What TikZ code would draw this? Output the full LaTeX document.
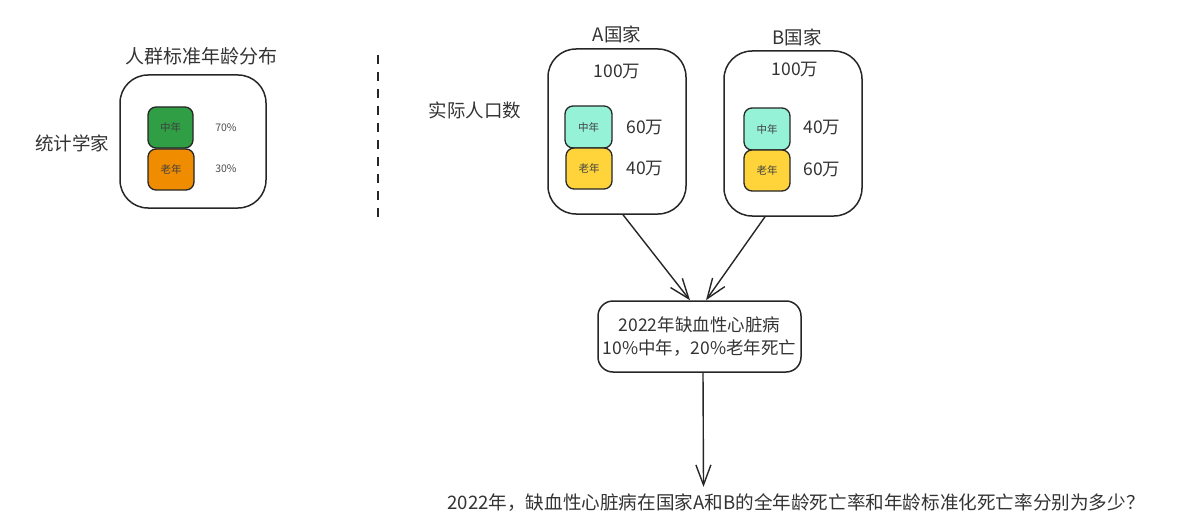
\documentclass[tikz,border=0pt]{standalone}
\usepackage{fontspec}
\setmainfont{Noto Sans CJK SC}
\usetikzlibrary{arrows.meta,calc}
\tikzset{
  big/.style={draw=black!85,line width=1.5pt,rounded corners=28pt,inner sep=0pt},
  small/.style={draw=black!85,line width=1.3pt,rounded corners=8pt,inner sep=0pt,font=\fontsize{10.5}{12}\selectfont,text=black!75},
  lbl/.style={font=\fontsize{18.5}{22}\selectfont,text=black!80,inner sep=0pt},
  num/.style={font=\fontsize{17.5}{20}\selectfont,text=black!80,inner sep=0pt},
  pct/.style={font=\fontsize{10.5}{12}\selectfont,text=black!70,inner sep=0pt},
  conn/.style={draw=black!85,line width=1.4pt,-{Straight Barb[length=20pt,width=15pt,line width=1.4pt]}}
}
\definecolor{gmid}{HTML}{2F9E44}
\definecolor{gold}{HTML}{F08C00}
\definecolor{tmid}{HTML}{96F2D7}
\definecolor{yold}{HTML}{FFD43B}
\begin{document}
\begin{tikzpicture}[x=1pt,y=-1pt]
\useasboundingbox (0,0) rectangle (1196,532);
% left
\node[lbl,font=\fontsize{19}{22}\selectfont] (title) at (201,56) {人群标准年龄分布};
\node[lbl] (stat) at (72,143) {统计学家};
\node[big,minimum width=146pt,minimum height=133pt] (boxL) at (193,141.5) {};
\node[small,fill=gmid,minimum width=45pt,minimum height=41pt] (lm) at (170.5,127.5) {中年};
\node[small,fill=gold,minimum width=46pt,minimum height=41pt] (lo) at (171,169.5) {老年};
\node[pct] (p70) at (226,128) {70\%};
\node[pct] (p30) at (226,169) {30\%};
% dashed divider
\coordinate (d1) at (378,55);
\coordinate (d2) at (378,218);
\draw[line width=2.2pt,dash pattern=on 9pt off 8pt,black!85] (d1) -- (d2);
% right
\node[lbl] (real) at (475,110) {实际人口数};
\node[lbl] (tA) at (617,34) {A国家};
\node[big,minimum width=138pt,minimum height=165pt] (boxA) at (617,131.5) {};
\node[num] (nA) at (617,72) {100万};
\node[small,fill=tmid,minimum width=47pt,minimum height=42pt] (am) at (588.5,127) {中年};
\node[small,fill=yold,minimum width=46pt,minimum height=41pt] (ao) at (589,168.5) {老年};
\node[num] (a60) at (645,128) {60万};
\node[num] (a40) at (645,169) {40万};
\node[lbl] (tB) at (797,37) {B国家};
\node[big,minimum width=138pt,minimum height=165pt] (boxB) at (793,133.5) {};
\node[num] (nB) at (795,70) {100万};
\node[small,fill=tmid,minimum width=46pt,minimum height=42pt] (bm) at (767,129) {中年};
\node[small,fill=yold,minimum width=46pt,minimum height=41pt] (bo) at (767,170.5) {老年};
\node[num] (b40) at (822,128) {40万};
\node[num] (b60) at (822,170) {60万};
% middle box
\node[big,rounded corners=15pt,minimum width=203pt,minimum height=71pt,align=center,font=\fontsize{17.5}{23}\selectfont,text=black!80] (mid) at (699.5,336.5) {2022年缺血性心脏病\\10\%中年，20\%老年死亡};
\node[lbl,font=\fontsize{18.6}{22}\selectfont] (q) at (796,503) {2022年，缺血性心脏病在国家A和B的全年龄死亡率和年龄标准化死亡率分别为多少？};
% connectors
\draw[conn] ($(boxA.south)+(6,0)$) -- ($(mid.north)+(-9.5,0)$);
\draw[conn] ($(boxB.south)+(-28,0)$) -- ($(mid.north)+(6.5,0)$);
\draw[conn] ($(mid.south)+(3.5,0)$) -- ($(q.north)+(-92.5,-7)$);
\end{tikzpicture}
\end{document}
